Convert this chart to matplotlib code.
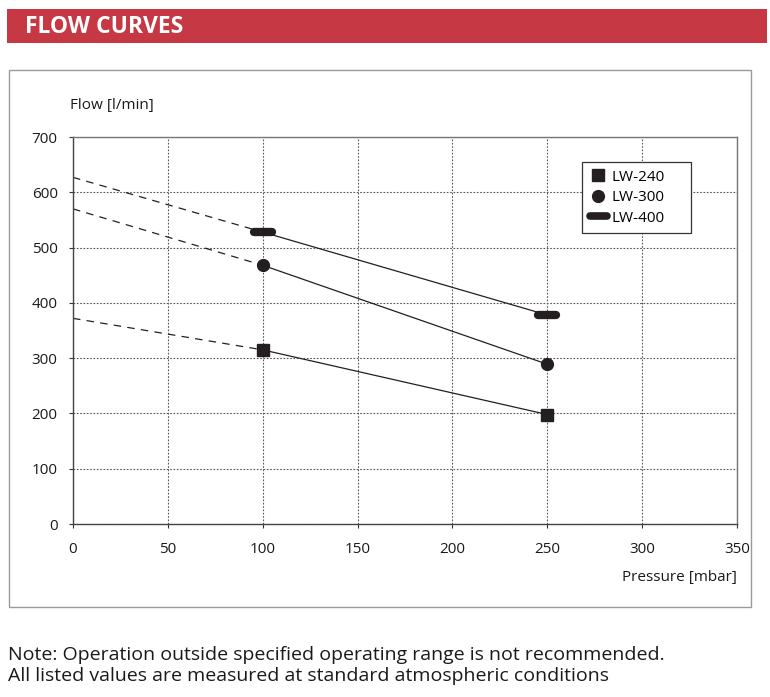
import matplotlib
matplotlib.use("Agg")
import matplotlib.pyplot as plt
from matplotlib.markers import MarkerStyle
from matplotlib.patches import Rectangle
from matplotlib.lines import Line2D

# ---- data ----
pressure = [100, 250]
lw240 = [315, 198]
lw300 = [468, 289]
lw400 = [528, 378]
ext_start = [0, 100]
lw240_ext = [372, 315]
lw300_ext = [570, 468]
lw400_ext = [627, 528]
series_names = ["LW-240", "LW-300", "LW-400"]
xticks = [0, 50, 100, 150, 200, 250, 300, 350]
yticks = [0, 100, 200, 300, 400, 500, 600, 700]

plt.rcParams['font.family'] = ['Open Sans', 'DejaVu Sans']

fig = plt.figure(figsize=(7.70, 6.97), dpi=100)
W, H = 770, 697

def fx(px):
    return px / W

def fy(py):
    return 1 - py / H

# header bar
fig.patches.append(Rectangle((fx(7), fy(43)), fx(760), 34 / H, transform=fig.transFigure,
                             facecolor='#C63843', edgecolor='none', zorder=0))
fig.text(fx(25), fy(27), "FLOW CURVES", color='white', fontsize=16.5, fontweight='bold',
         va='center', ha='left', family=['Open Sans', 'DejaVu Sans'])

# outer gray box
fig.patches.append(Rectangle((fx(9), fy(607)), fx(742), (607 - 70) / H, transform=fig.transFigure,
                             facecolor='none', edgecolor='#9a9a9a', linewidth=1.0, zorder=0))

ax = fig.add_axes([fx(73), fy(524), fx(737 - 73), (524 - 137) / H])
ax.set_xlim(0, 350)
ax.set_ylim(0, 700)
ax.set_xticks(xticks)
ax.set_yticks(yticks)
ax.tick_params(axis='both', labelsize=11, length=3, width=0.8, color='#333333', labelcolor='#1a1a1a')
ax.tick_params(axis='x', pad=10)
ax.tick_params(axis='y', pad=8)
for s in ['left', 'bottom']:
    ax.spines[s].set_color('#444444')
    ax.spines[s].set_linewidth(1.0)
for s in ['top', 'right']:
    ax.spines[s].set_color('#777777')
    ax.spines[s].set_linewidth(1.0)
ax.grid(True, linestyle=(0, (1.5, 1.5)), color='#555555', linewidth=0.8)
ax.set_axisbelow(True)

# dashed extrapolations
for ext in [lw240_ext, lw300_ext, lw400_ext]:
    ax.plot(ext_start, ext, color='#222222', linewidth=0.9, linestyle=(0, (6, 5)), zorder=2)

col = '#231f20'
ax.plot(pressure, lw240, color=col, linewidth=0.9, marker='s', markersize=8.5,
        markerfacecolor=col, markeredgecolor=col, zorder=3)
ax.plot(pressure, lw300, color=col, linewidth=0.9, marker='o', markersize=8.5,
        markerfacecolor=col, markeredgecolor=col, zorder=3)
ax.plot(pressure, lw400, color=col, linewidth=0.9, zorder=3)
bar_marker = MarkerStyle('_', capstyle='round')
ax.plot(pressure, lw400, linestyle='none', marker=bar_marker, markersize=13,
        markeredgewidth=6, color=col, zorder=4)

handles = [
    Line2D([], [], linestyle='none', marker='s', markersize=8.5, color=col),
    Line2D([], [], linestyle='none', marker='o', markersize=8.5, color=col),
    Line2D([], [], color=col, linewidth=5.5, solid_capstyle='round'),
]
x0 = (582 - 73) / 664
x1 = (691 - 73) / 664
y1 = (524 - 162) / 387
leg = ax.legend(handles, series_names, loc='upper left',
                bbox_to_anchor=(x0, y1 - 0.3, x1 - x0, 0.3), mode='expand',
                frameon=True, fancybox=False, fontsize=11, borderaxespad=0,
                handlelength=1.15, handletextpad=0.3, borderpad=0.5, labelspacing=0.36)
leg.get_frame().set_edgecolor('#333333')
leg.get_frame().set_linewidth(0.9)
leg.get_frame().set_alpha(1)

fig.text(fx(70), fy(105), "Flow [l/min]", fontsize=11, ha='left', va='center', color='#1a1a1a')
fig.text(fx(737), fy(577), "Pressure [mbar]", fontsize=11, ha='right', va='center', color='#1a1a1a')

fig.text(fx(8), fy(655), "Note: Operation outside specified operating range is not recommended.",
         fontsize=14, ha='left', va='center', color='#1a1a1a', family=['Open Sans', 'DejaVu Sans'])
fig.text(fx(8), fy(676), "All listed values are measured at standard atmospheric conditions",
         fontsize=14, ha='left', va='center', color='#1a1a1a', family=['Open Sans', 'DejaVu Sans'])

fig.savefig("out.png", dpi=100)
